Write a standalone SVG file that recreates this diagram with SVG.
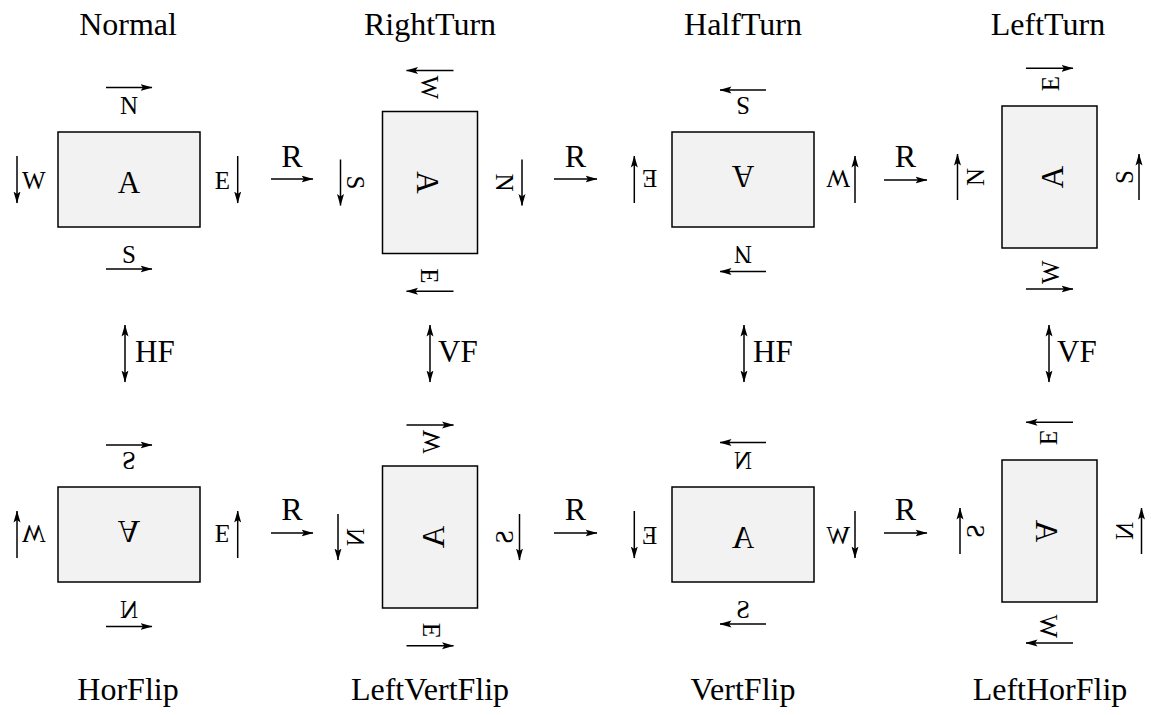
<svg xmlns="http://www.w3.org/2000/svg" width="1151" height="715" viewBox="0 0 1151 715" font-family="Liberation Serif">
<style>
text{font-family:'Liberation Serif','Times New Roman',serif;fill:#000}
.title{font-size:32px;text-anchor:middle}
.op{font-size:32px}
.fl{font-size:31px}
.big{font-size:31px;text-anchor:middle}
.lbl{font-size:25px}
.box{fill:#f2f2f2;stroke:#000;stroke-width:1.5}
.arr{stroke:#000;stroke-width:1.5;fill:none;marker-end:url(#ah)}
.dbl{stroke:#000;stroke-width:1.5;fill:none;marker-end:url(#ah);marker-start:url(#ahs)}
</style>
<defs>
<marker id="ah" markerUnits="userSpaceOnUse" viewBox="0 0 12 8" refX="11.5" refY="4" markerWidth="12" markerHeight="8" orient="auto">
<path d="M0,0.5 L12,4 L0,7.5 L2.5,4 Z" fill="#000"/>
</marker>
<marker id="ahs" markerUnits="userSpaceOnUse" viewBox="0 0 12 8" refX="11.5" refY="4" markerWidth="12" markerHeight="8" orient="auto-start-reverse">
<path d="M0,0.5 L12,4 L0,7.5 L2.5,4 Z" fill="#000"/>
</marker>
</defs>
<rect width="1151" height="715" fill="#fff"/>

<g id="titles">
<text class="title" x="128" y="35">Normal</text>
<text class="title" x="430" y="35">RightTurn</text>
<text class="title" x="743" y="35">HalfTurn</text>
<text class="title" x="1048" y="35">LeftTurn</text>
<text class="title" x="128" y="700">HorFlip</text>
<text class="title" x="430" y="700">LeftVertFlip</text>
<text class="title" x="743" y="700">VertFlip</text>
<text class="title" x="1050" y="700">LeftHorFlip</text>
</g>

<g id="normal" transform="matrix(1,0,0,1,129,179.5)">
<rect class="box" x="-71" y="-47.5" width="142" height="95"/>
<text class="big" x="0" y="13.5">A</text>
<line class="arr" x1="-23" y1="-92" x2="23" y2="-92"/>
<text class="lbl" x="0" y="-66" text-anchor="middle">N</text>
<text class="lbl" x="0" y="83" text-anchor="middle">S</text>
<line class="arr" x1="-23" y1="89.5" x2="23" y2="89.5"/>
<line class="arr" x1="-112" y1="-23.5" x2="-112" y2="23.5"/>
<text class="lbl" x="-107" y="9.5">W</text>
<text class="lbl" x="101" y="9.5" text-anchor="end">E</text>
<line class="arr" x1="108.7" y1="-23.5" x2="108.7" y2="23.5"/>
</g>

<g id="rightturn" transform="matrix(0,1,-1,0,430,182.5)">
<rect class="box" x="-71" y="-47.5" width="142" height="95"/>
<text class="big" x="0" y="13.5">A</text>
<line class="arr" x1="-23" y1="-92" x2="23" y2="-92"/>
<text class="lbl" x="0" y="-66" text-anchor="middle">N</text>
<text class="lbl" x="0" y="83" text-anchor="middle">S</text>
<line class="arr" x1="-23" y1="89.5" x2="23" y2="89.5"/>
<line class="arr" x1="-112" y1="-23.5" x2="-112" y2="23.5"/>
<text class="lbl" x="-107" y="9.5">W</text>
<text class="lbl" x="101" y="9.5" text-anchor="end">E</text>
<line class="arr" x1="108.7" y1="-23.5" x2="108.7" y2="23.5"/>
</g>

<g id="halfturn" transform="matrix(-1,0,0,-1,743,179.5)">
<rect class="box" x="-71" y="-47.5" width="142" height="95"/>
<text class="big" x="0" y="13.5">A</text>
<line class="arr" x1="-23" y1="-92" x2="23" y2="-92"/>
<text class="lbl" x="0" y="-66" text-anchor="middle">N</text>
<text class="lbl" x="0" y="83" text-anchor="middle">S</text>
<line class="arr" x1="-23" y1="89.5" x2="23" y2="89.5"/>
<line class="arr" x1="-112" y1="-23.5" x2="-112" y2="23.5"/>
<text class="lbl" x="-107" y="9.5">W</text>
<text class="lbl" x="101" y="9.5" text-anchor="end">E</text>
<line class="arr" x1="108.7" y1="-23.5" x2="108.7" y2="23.5"/>
</g>

<g id="leftturn" transform="matrix(0,-1,1,0,1049.5,177)">
<rect class="box" x="-71" y="-47.5" width="142" height="95"/>
<text class="big" x="0" y="13.5">A</text>
<line class="arr" x1="-23" y1="-92" x2="23" y2="-92"/>
<text class="lbl" x="0" y="-66" text-anchor="middle">N</text>
<text class="lbl" x="0" y="83" text-anchor="middle">S</text>
<line class="arr" x1="-23" y1="89.5" x2="23" y2="89.5"/>
<line class="arr" x1="-112" y1="-23.5" x2="-112" y2="23.5"/>
<text class="lbl" x="-107" y="9.5">W</text>
<text class="lbl" x="101" y="9.5" text-anchor="end">E</text>
<line class="arr" x1="108.7" y1="-23.5" x2="108.7" y2="23.5"/>
</g>

<g id="horflip" transform="matrix(1,0,0,-1,129,534.5)">
<rect class="box" x="-71" y="-47.5" width="142" height="95"/>
<text class="big" x="0" y="13.5">A</text>
<line class="arr" x1="-23" y1="-92" x2="23" y2="-92"/>
<text class="lbl" x="0" y="-66" text-anchor="middle">N</text>
<text class="lbl" x="0" y="83" text-anchor="middle">S</text>
<line class="arr" x1="-23" y1="89.5" x2="23" y2="89.5"/>
<line class="arr" x1="-112" y1="-23.5" x2="-112" y2="23.5"/>
<text class="lbl" x="-107" y="9.5">W</text>
<text class="lbl" x="101" y="9.5" text-anchor="end">E</text>
<line class="arr" x1="108.7" y1="-23.5" x2="108.7" y2="23.5"/>
</g>

<g id="leftvertflip" transform="matrix(0,1,1,0,430,537)">
<rect class="box" x="-71" y="-47.5" width="142" height="95"/>
<text class="big" x="0" y="13.5">A</text>
<line class="arr" x1="-23" y1="-92" x2="23" y2="-92"/>
<text class="lbl" x="0" y="-66" text-anchor="middle">N</text>
<text class="lbl" x="0" y="83" text-anchor="middle">S</text>
<line class="arr" x1="-23" y1="89.5" x2="23" y2="89.5"/>
<line class="arr" x1="-112" y1="-23.5" x2="-112" y2="23.5"/>
<text class="lbl" x="-107" y="9.5">W</text>
<text class="lbl" x="101" y="9.5" text-anchor="end">E</text>
<line class="arr" x1="108.7" y1="-23.5" x2="108.7" y2="23.5"/>
</g>

<g id="vertflip" transform="matrix(-1,0,0,1,743,534.5)">
<rect class="box" x="-71" y="-47.5" width="142" height="95"/>
<text class="big" x="0" y="13.5">A</text>
<line class="arr" x1="-23" y1="-92" x2="23" y2="-92"/>
<text class="lbl" x="0" y="-66" text-anchor="middle">N</text>
<text class="lbl" x="0" y="83" text-anchor="middle">S</text>
<line class="arr" x1="-23" y1="89.5" x2="23" y2="89.5"/>
<line class="arr" x1="-112" y1="-23.5" x2="-112" y2="23.5"/>
<text class="lbl" x="-107" y="9.5">W</text>
<text class="lbl" x="101" y="9.5" text-anchor="end">E</text>
<line class="arr" x1="108.7" y1="-23.5" x2="108.7" y2="23.5"/>
</g>

<g id="lefthorflip" transform="matrix(0,-1,-1,0,1049.5,531)">
<rect class="box" x="-71" y="-47.5" width="142" height="95"/>
<text class="big" x="0" y="13.5">A</text>
<line class="arr" x1="-23" y1="-92" x2="23" y2="-92"/>
<text class="lbl" x="0" y="-66" text-anchor="middle">N</text>
<text class="lbl" x="0" y="83" text-anchor="middle">S</text>
<line class="arr" x1="-23" y1="89.5" x2="23" y2="89.5"/>
<line class="arr" x1="-112" y1="-23.5" x2="-112" y2="23.5"/>
<text class="lbl" x="-107" y="9.5">W</text>
<text class="lbl" x="101" y="9.5" text-anchor="end">E</text>
<line class="arr" x1="108.7" y1="-23.5" x2="108.7" y2="23.5"/>
</g>

<g id="connectors">
<line class="arr" x1="271" y1="179" x2="313" y2="179"/>
<text class="op" x="292" y="167" text-anchor="middle">R</text>
<line class="arr" x1="554" y1="179" x2="597" y2="179"/>
<text class="op" x="575.5" y="167" text-anchor="middle">R</text>
<line class="arr" x1="884" y1="180" x2="927" y2="180"/>
<text class="op" x="905.5" y="167" text-anchor="middle">R</text>
<line class="arr" x1="271" y1="533" x2="313" y2="533"/>
<text class="op" x="292" y="520" text-anchor="middle">R</text>
<line class="arr" x1="554" y1="533" x2="597" y2="533"/>
<text class="op" x="575.5" y="520" text-anchor="middle">R</text>
<line class="arr" x1="884" y1="533" x2="927" y2="533"/>
<text class="op" x="905.5" y="520" text-anchor="middle">R</text>
<line class="dbl" x1="125" y1="325" x2="125" y2="382"/>
<text class="fl" x="135" y="362">HF</text>
<line class="dbl" x1="430" y1="325" x2="430" y2="382"/>
<text class="fl" x="438" y="362">VF</text>
<line class="dbl" x1="744" y1="325" x2="744" y2="382"/>
<text class="fl" x="753" y="362">HF</text>
<line class="dbl" x1="1049" y1="325" x2="1049" y2="382"/>
<text class="fl" x="1057" y="362">VF</text>
</g>
</svg>
